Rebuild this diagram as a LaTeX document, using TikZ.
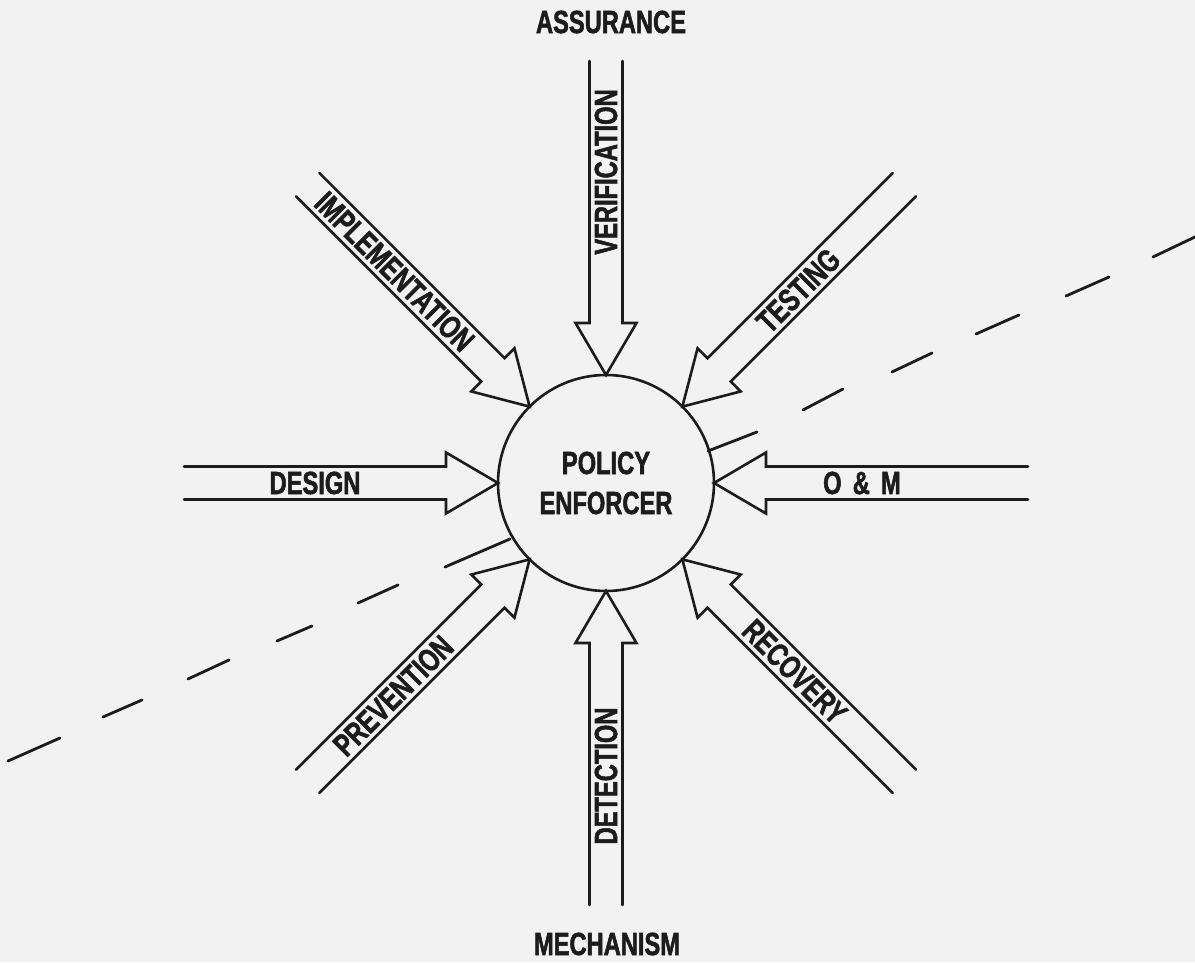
\documentclass[tikz,border=0pt]{standalone}
\usepackage{fontspec}
\newfontfamily\cond{Liberation Sans Bold}[FakeStretch=0.74, FakeBold=1.6]
\definecolor{bg}{RGB}{242,242,242}
\definecolor{ink}{RGB}{28,28,28}
\tikzset{
  arr/.style={draw=ink, line width=2.6pt, line join=miter, line cap=round},
  lbl/.style={text=ink, font=\cond\fontsize{32}{40}\selectfont, inner sep=0pt},
  dashseg/.style={draw=ink, line width=2.8pt, line cap=round}
}
\newcommand\hollowarrow[5]{%
  \begin{scope}[shift={(pe.center)}, rotate=#1]
    \coordinate (#2) at (422,0);
    \draw[arr] (422,16.5) -- (160,16.5) -- (160,30.5) -- (108,0) -- (160,-30.5) -- (160,-16.5) -- (422,-16.5);
    \node[lbl, rotate=#4] (#2-l) at (#3,0) {#5};
  \end{scope}}
\begin{document}
\begin{tikzpicture}[x=1pt,y=1pt]
  \fill[bg] (0,0) rectangle (1195,962);
  \useasboundingbox (0,0) rectangle (1195,962);
  % central circle
  \node[draw=ink, circle, line width=2.6pt, minimum size=216pt, inner sep=0pt,
        lbl, align=center] (pe) at (606,479) {POLICY\\ENFORCER};
  % arrows
  \hollowarrow{90}{ver}{311}{90}{VERIFICATION}
  \hollowarrow{45}{tst}{272}{45}{TESTING}
  \hollowarrow{0}{om}{256}{0}{O\hspace{0.35em}\&\hspace{0.35em}M}
  \hollowarrow{-45}{rec}{267}{-45}{RECOVERY}
  \hollowarrow{-90}{det}{293}{90}{DETECTION}
  \hollowarrow{-135}{prv}{301}{45}{PREVENTION}
  \hollowarrow{180}{des}{291}{0}{DESIGN}
  \hollowarrow{135}{imp}{299}{-45}{IMPLEMENTATION}
  % titles
  \node[lbl] (assur) at (611,940) {ASSURANCE};
  \node[lbl] (mech) at (607,18) {MECHANISM};
  % dashed line
  \foreach \a/\b/\c/\d in {708/511/757/530, 803/552/843/573, 892/590/932/609,
      976/628/1019/647, 1066/666/1109/685, 1153/705/1197/726,
      445/395/510/423, 358/359/398/377, 277/321/312/336,
      188/283/229/302, 103/245/142/262, 8/201/60/224}
    \draw[dashseg] (\a,\b) -- (\c,\d);
\end{tikzpicture}
\end{document}
